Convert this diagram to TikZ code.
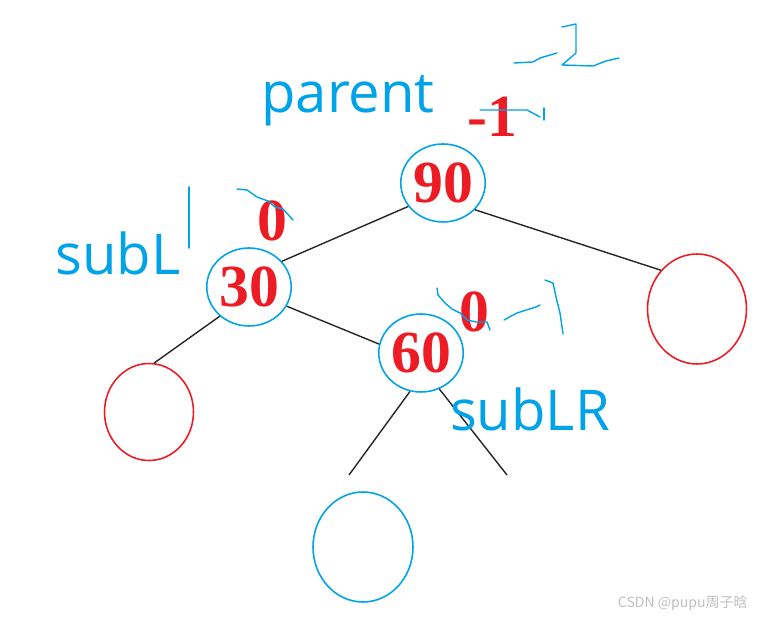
\documentclass[tikz,border=0pt]{standalone}
\usepackage{fontspec}
\setmainfont{Open Sans}
\newfontfamily\numfont{Liberation Serif}
\newfontfamily\cjk{Noto Sans CJK SC}
\usetikzlibrary{shapes.geometric}

\definecolor{paintblue}{RGB}{0,162,232}
\definecolor{paintred}{RGB}{237,28,36}

\tikzset{
  keynode/.style={ellipse, draw=paintblue, line width=0.9pt, minimum width=1.46cm,
    minimum height=1.56cm, inner sep=0pt, text=paintred,
    font=\numfont\bfseries\fontsize{34}{34}\selectfont},
  leafnode/.style={ellipse, line width=0.9pt, inner sep=0pt},
  bfnum/.style={text=paintred, font=\numfont\bfseries\fontsize{34}{34}\selectfont},
  tag/.style={text=paintblue, font=\fontsize{32}{32}\selectfont},
  edge/.style={line width=0.8pt, black!85},
  scribble/.style={paintblue, line width=0.8pt, line join=round, line cap=round}
}

\begin{document}
\begin{tikzpicture}[x=0.02cm, y=-0.02cm]
  \useasboundingbox (0,0) rectangle (760,617);

  % keys
  \node[keynode] (n90) at (443,183) {90};
  \node[keynode] (n30) at (249,287) {30};
  \node[keynode] (n60) at (421,353) {60};

  % empty subtrees
  \node[leafnode, draw=paintred, minimum width=1.98cm, minimum height=2.2cm] (leafR) at (697,309) {};
  \node[leafnode, draw=paintred, minimum width=1.78cm, minimum height=1.94cm] (leafL) at (149,412) {};
  \node[leafnode, draw=paintblue, minimum width=2cm, minimum height=2.2cm] (leafB) at (363,547) {};
  \coordinate (endL) at (349,475);
  \coordinate (endR) at (507,475);

  % edges
  \draw[edge] (n90.214) -- (n30.38);
  \draw[edge] (n90.-40) -- (leafR.133);
  \draw[edge] (n30.225) -- (leafL.84);
  \draw[edge] (n30.-27) -- (n60.168);
  \draw[edge] (n60.-106) -- (endL);
  \draw[edge] (n60.-63) -- (endR);

  % names
  \node[tag] (tparent) at (348,101) {parent};
  \node[tag] (tsubl) at (118,253) {subL};
  \node[tag] (tsublr) at (530,409) {subLR};

  % balance factors
  \node[bfnum] (bf90) at (492,117) {-1};
  \node[bfnum] (bf30) at (272,221) {0};
  \node[bfnum] (bf60) at (474,312) {0};

  % hand marks
  \draw[scribble] (514,63) -- (533,62) -- (540,58) -- (557,53);
  \draw[scribble] (562,27) -- (576,24) -- (576,53) -- (562,65) -- (593,66) -- (606,61) -- (619,58);
  \draw[scribble] (480,110) -- (527,110) -- (540,117);
  \draw[scribble] (544,108) -- (544,120);
  \draw[scribble] (189,187) -- (189,248);
  \draw[scribble] (237,189) -- (247,190) -- (257,197) -- (268,201) -- (275,207) -- (283,209) -- (293,220);
  \draw[scribble] (437,288) -- (438,295) -- (445,303) -- (452,309) -- (460,313) -- (467,320) -- (476,322) -- (487,322) -- (490,330);
  \draw[scribble] (504,320) -- (517,313) -- (536,307) -- (540,305);
  \draw[scribble] (545,280) -- (553,283) -- (556,297) -- (560,313) -- (563,334);

  \node[text=black!25, font=\cjk\fontsize{8}{8}\selectfont, anchor=east] (mark) at (754,603) {CSDN @pupu周子晗};
\end{tikzpicture}
\end{document}
